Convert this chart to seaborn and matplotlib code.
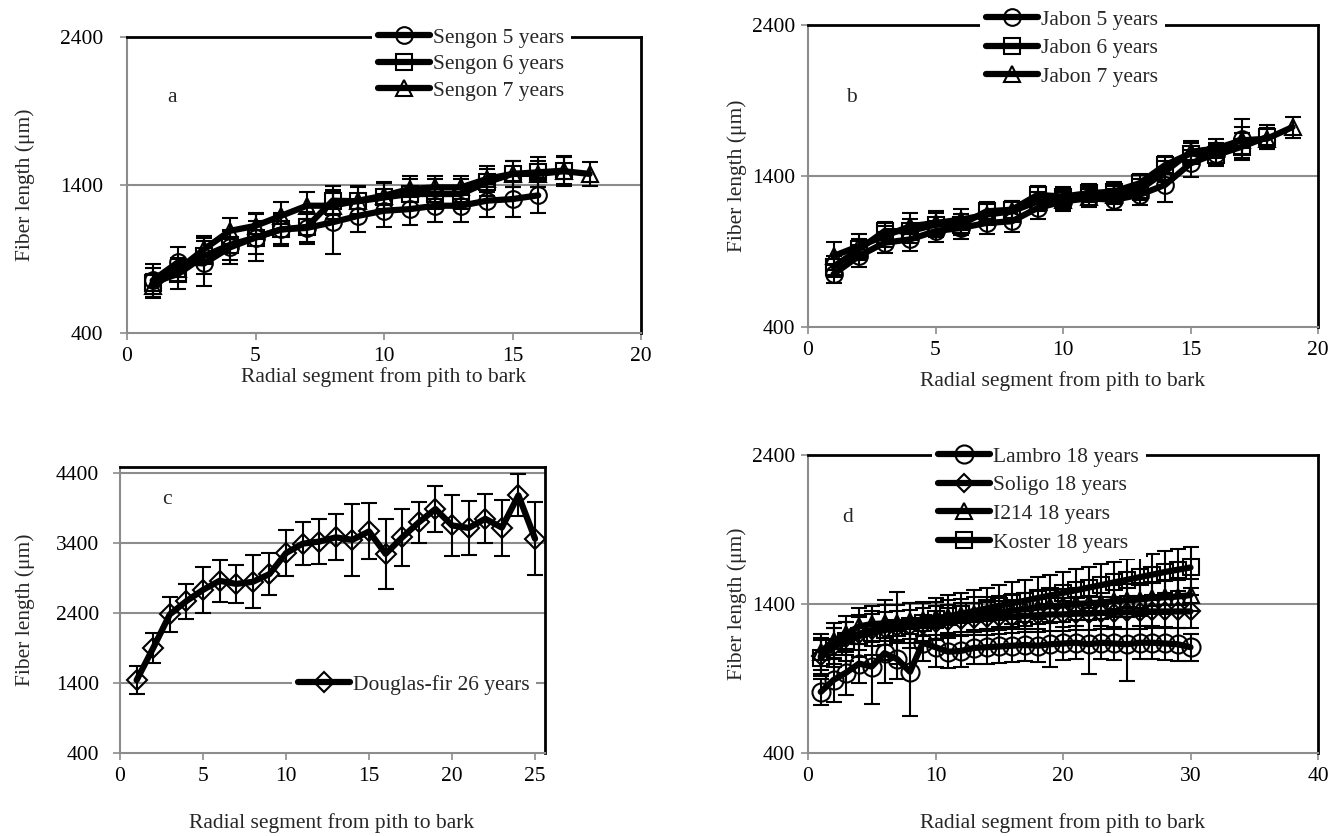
import numpy as np
import pandas as pd
import matplotlib
matplotlib.use("Agg")
import matplotlib.pyplot as plt
import seaborn as sns
from matplotlib.lines import Line2D

# ---------------- data ----------------
# panel a : Sengon
seg_s5 = list(range(1, 17))
sengon5 = [755, 880, 870, 978, 1045, 1100, 1110, 1148, 1192, 1226, 1237, 1260, 1260, 1294, 1305, 1330]
sengon5_err = [110, 100, 150, 110, 160, 110, 110, 215, 110, 110, 110, 110, 110, 110, 120, 120]
seg_s6 = list(range(1, 18))
sengon6 = [740, 800, 920, 995, 1045, 1100, 1117, 1294, 1290, 1316, 1339, 1339, 1339, 1418, 1475, 1486, 1497]
sengon6_err = [100, 100, 120, 100, 110, 100, 100, 100, 100, 100, 100, 100, 100, 90, 90, 100, 90]
seg_s7 = list(range(1, 19))
sengon7 = [717, 830, 966, 1090, 1124, 1192, 1260, 1260, 1294, 1328, 1373, 1384, 1384, 1441, 1475, 1475, 1493, 1475]
sengon7_err = [80, 80, 90, 90, 90, 90, 90, 90, 90, 90, 90, 80, 80, 90, 90, 90, 100, 80]

# panel b : Jabon
seg_j5 = list(range(1, 18))
jabon5 = [750, 870, 958, 980, 1035, 1056, 1089, 1100, 1188, 1231, 1253, 1242, 1275, 1341, 1483, 1549, 1647]
jabon5_err = [60, 70, 70, 80, 70, 70, 70, 70, 70, 60, 60, 70, 70, 110, 90, 70, 130]
seg_j6 = list(range(1, 19))
jabon6 = [800, 914, 1035, 1035, 1078, 1078, 1166, 1177, 1275, 1264, 1286, 1297, 1352, 1472, 1549, 1538, 1593, 1658]
jabon6_err = [70, 70, 60, 80, 80, 70, 60, 60, 60, 60, 60, 60, 60, 60, 70, 70, 90, 80]
seg_j7 = list(range(1, 20))
jabon7 = [870, 936, 1002, 1067, 1089, 1111, 1144, 1166, 1231, 1242, 1264, 1275, 1308, 1428, 1560, 1582, 1636, 1647, 1724]
jabon7_err = [90, 80, 70, 90, 80, 70, 70, 70, 60, 60, 60, 60, 70, 70, 70, 60, 90, 70, 70]

# panel c : Douglas-fir
seg_df = list(range(1, 26))
douglas = [1440, 1900, 2380, 2570, 2730, 2860, 2815, 2845, 2955, 3255, 3390, 3420, 3480, 3445,
           3565, 3245, 3480, 3695, 3885, 3650, 3615, 3745, 3620, 4080, 3460]
douglas_err = [200, 220, 250, 250, 330, 300, 275, 380, 305, 330, 310, 320, 330, 515,
               400, 500, 410, 290, 335, 430, 390, 350, 400, 300, 520]

# panel d : poplar clones
seg_d = list(range(1, 31))
lambro = [810, 890, 940, 1000, 980, 1070, 1030, 945, 1140, 1110, 1080, 1085, 1105, 1110, 1115,
          1120, 1125, 1120, 1130, 1135, 1140, 1130, 1140, 1135, 1130, 1140, 1140, 1135, 1130, 1110]
lambro_err = [90, 150, 150, 130, 250, 200, 130, 300, 120, 130, 110, 110, 110, 110, 110,
              110, 110, 110, 150, 110, 110, 200, 110, 110, 250, 110, 110, 110, 110, 90]
soligo = [1050, 1120, 1170, 1200, 1225, 1235, 1245, 1250, 1260, 1275, 1285, 1295, 1300, 1305, 1310,
          1315, 1320, 1325, 1330, 1330, 1335, 1335, 1340, 1340, 1345, 1345, 1350, 1350, 1350, 1350]
soligo_err = [120, 120, 110, 110, 110, 110, 110, 110, 110, 110, 110, 110, 110, 110, 110,
              110, 110, 110, 110, 110, 110, 110, 110, 110, 110, 110, 110, 110, 110, 110]
i214 = [1080, 1150, 1200, 1250, 1265, 1270, 1275, 1285, 1295, 1305, 1315, 1325, 1335, 1340, 1345,
        1355, 1365, 1375, 1385, 1390, 1400, 1405, 1410, 1420, 1425, 1430, 1440, 1445, 1450, 1460]
i214_err = [120, 120, 120, 120, 120, 120, 120, 120, 110, 110, 110, 110, 110, 110, 110,
            110, 110, 110, 110, 110, 110, 110, 110, 110, 110, 110, 110, 110, 110, 110]
koster = [1040, 1110, 1150, 1185, 1205, 1225, 1240, 1255, 1275, 1300, 1318, 1335, 1352, 1370, 1388,
          1405, 1422, 1440, 1457, 1475, 1492, 1510, 1527, 1545, 1562, 1580, 1597, 1615, 1630, 1645]
koster_err = [120, 130, 130, 140, 150, 200, 240, 150, 140, 140, 140, 140, 140, 140, 140,
              140, 140, 140, 140, 140, 140, 140, 140, 140, 140, 140, 140, 140, 140, 140]

# ---------------- style ----------------
sns.set_theme(style="white")
plt.rcParams["font.family"] = ["Liberation Serif", "DejaVu Serif"]

W, H = 1338, 836
fig = plt.figure(figsize=(W / 100, H / 100), dpi=100)
FS = 15.5
GRAY = "#8c8c8c"


def add_ax(l, r, t, b):
    return fig.add_axes([l / W, 1 - b / H, (r - l) / W, (b - t) / H])


def style(ax, xlim, xticks, ylim, yticks, grid, ypad):
    ax.set_xlim(*xlim)
    ax.set_ylim(*ylim)
    ax.set_xticks(xticks)
    ax.set_yticks(yticks)
    for g in grid:
        ax.axhline(g, color=GRAY, lw=1.5, zorder=0)
    for s in ["top", "right"]:
        ax.spines[s].set_color("black")
        ax.spines[s].set_linewidth(2)
    for s in ["left", "bottom"]:
        ax.spines[s].set_color(GRAY)
        ax.spines[s].set_linewidth(1.5)
    ax.tick_params(direction="out", length=5, width=1.2, color=GRAY,
                   labelsize=FS, labelcolor="black", left=True, bottom=True)
    ax.tick_params(axis="x", pad=5)
    ax.tick_params(axis="y", pad=ypad)


def series(ax, x, y, e, marker, ms):
    df = pd.DataFrame({"x": x, "y": y})
    sns.lineplot(data=df, x="x", y="y", ax=ax, color="black", lw=4.5, marker=marker,
                 markersize=ms, markerfacecolor="none", markeredgecolor="black",
                 markeredgewidth=1.5, legend=False, zorder=3)
    ax.errorbar(x, y, yerr=e, fmt="none", ecolor="black", elinewidth=1.5,
                capsize=6, capthick=1.5, zorder=4)
    ax.set_xlabel("")
    ax.set_ylabel("")


def handle(marker, ms):
    return Line2D([], [], color="black", lw=4.5, marker=marker, markersize=ms,
                  markerfacecolor="none", markeredgecolor="black", markeredgewidth=1.5)


def legend(ax, handles, labels, x, y, spacing=0.4):
    lg = ax.legend(handles, labels, loc="upper left", bbox_to_anchor=(x / W, 1 - y / H),
                   bbox_transform=fig.transFigure, frameon=True, facecolor="white",
                   edgecolor="none", framealpha=1, fancybox=False, fontsize=FS,
                   handlelength=2.4, handletextpad=0.15, labelspacing=spacing,
                   borderpad=0.3, borderaxespad=0)
    lg.set_zorder(10)
    return lg


def labels(ax_cx, ax_cy, xl_y, yl_x):
    fig.text(ax_cx / W, 1 - xl_y / H, "Radial segment from pith to bark", ha="center",
             va="center", fontsize=FS)
    fig.text(yl_x / W, 1 - ax_cy / H, "Fiber length (\u03bcm)", ha="center", va="center",
             rotation=90, fontsize=FS)


# ---------------- panel a ----------------
axa = add_ax(127, 641, 37, 333)
style(axa, (0, 20), [0, 5, 10, 15, 20], (400, 2400), [400, 1400, 2400], [1400], 12)
series(axa, seg_s5, sengon5, sengon5_err, "o", 12)
series(axa, seg_s6, sengon6, sengon6_err, "s", 11)
series(axa, seg_s7, sengon7, sengon7_err, "^", 12)
legend(axa, [handle("o", 12), handle("s", 11), handle("^", 12)],
       ["Sengon 5 years", "Sengon 6 years", "Sengon 7 years"], 372, 21, 0.3)
fig.text(172 / W, 1 - 97 / H, "a", fontsize=FS, ha="center", va="center")
labels(384, 185, 377, 25)

# ---------------- panel b ----------------
axb = add_ax(808, 1318, 25, 327)
style(axb, (0, 20), [0, 5, 10, 15, 20], (400, 2400), [400, 1400, 2400], [1400], 4)
series(axb, seg_j5, jabon5, jabon5_err, "o", 12)
series(axb, seg_j6, jabon6, jabon6_err, "s", 11)
series(axb, seg_j7, jabon7, jabon7_err, "^", 12)
legend(axb, [handle("o", 12), handle("s", 11), handle("^", 12)],
       ["Jabon 5 years", "Jabon 6 years", "Jabon 7 years"], 980, 3)
fig.text(851 / W, 1 - 97 / H, "b", fontsize=FS, ha="center", va="center")
labels(1063, 176, 381, 737)

# ---------------- panel c ----------------
axc = add_ax(120, 545, 467, 753)
style(axc, (0, 25.6), [0, 5, 10, 15, 20, 25], (400, 4485), [400, 1400, 2400, 3400, 4400],
      [1400, 2400, 3400, 4400], 10)
series(axc, seg_df, douglas, douglas_err, "D", 10)
legend(axc, [handle("D", 10)], ["Douglas-fir 26 years"], 292, 668)
fig.text(167 / W, 1 - 500 / H, "c", fontsize=FS, ha="center", va="center")
labels(332, 610, 823, 25)

# ---------------- panel d ----------------
axd = add_ax(808, 1318, 455, 753)
style(axd, (0, 40), [0, 10, 20, 30, 40], (400, 2400), [400, 1400, 2400], [1400], 4)
series(axd, seg_d, lambro, lambro_err, "o", 13)
series(axd, seg_d, soligo, soligo_err, "D", 9)
series(axd, seg_d, i214, i214_err, "^", 12)
series(axd, seg_d, koster, koster_err, "s", 11)
legend(axd, [handle("o", 13), handle("D", 9), handle("^", 12), handle("s", 11)],
       ["Lambro 18 years", "Soligo 18 years", "I214 18 years", "Koster 18 years"], 932, 440)
fig.text(848 / W, 1 - 517 / H, "d", fontsize=FS, ha="center", va="center")
labels(1063, 604, 823, 737)

fig.savefig("out.png", dpi=100, facecolor="white")
